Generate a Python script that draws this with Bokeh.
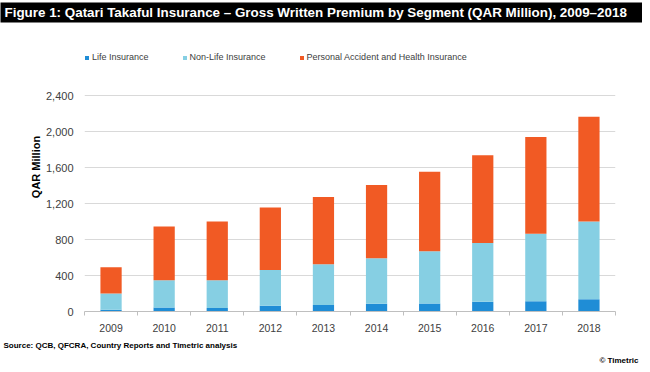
from bokeh.plotting import figure
from bokeh.models import (Range1d, FixedTicker, NumeralTickFormatter, Legend,
                          LegendItem, Title, ColumnDataSource)
from bokeh.embed import file_html
from bokeh.resources import INLINE

# ---- data (QAR Million) ----
years = ["2009", "2010", "2011", "2012", "2013", "2014", "2015", "2016", "2017", "2018"]
life = [20, 45, 38, 63, 72, 85, 90, 108, 115, 137]
non_life = [181, 304, 311, 399, 455, 508, 580, 654, 749, 865]
pa_health = [292, 597, 652, 696, 748, 813, 886, 977, 1076, 1165]
series_names = ["Life Insurance", "Non-Life Insurance",
                "Personal Accident and Health Insurance"]
y_ticks = [0, 400, 800, 1200, 1600, 2000, 2400]

title_text = ("Figure 1: Qatari Takaful Insurance \u2013 Gross Written Premium by Segment "
              "(QAR Million), 2009\u20132018")
source_text = "Source: QCB, QFCRA, Country Reports and Timetric analysis"
copyright_text = "\u00a9 Timetric"

colors = ["#1f8dd6", "#86cfe3", "#f15a24"]
W, H = 642, 364
FONT = "Liberation Sans"
Y_TOP = 3215  # headroom above the 2,400 gridline for the legend row

idx = list(range(len(years)))
src = ColumnDataSource(dict(x=idx, life=life, non_life=non_life, pa_health=pa_health))

p = figure(width=W, height=H, output_backend="svg", toolbar_location=None,
           x_range=Range1d(-0.5, len(years) - 0.5), y_range=Range1d(0, Y_TOP),
           min_border_left=84, min_border_right=27, min_border_top=20,
           min_border_bottom=52)
p.outline_line_color = None

rs = p.vbar_stack(["life", "non_life", "pa_health"], x="x", width=0.4,
                  color=colors, line_color=None, source=src)

p.xaxis.ticker = FixedTicker(ticks=idx, minor_ticks=[i - 0.5 for i in range(len(years) + 1)])
p.xaxis.major_label_overrides = {i: y for i, y in enumerate(years)}
p.xaxis.axis_line_color = "#bfbfbf"
p.xaxis.major_tick_line_color = None
p.xaxis.major_tick_out = 0
p.xaxis.major_tick_in = 0
p.xaxis.minor_tick_line_color = "#bfbfbf"
p.xaxis.minor_tick_out = 4
p.xaxis.minor_tick_in = 0
p.xaxis.major_label_standoff = 8
p.xaxis.major_label_text_font = FONT
p.xaxis.major_label_text_font_size = "10.5px"
p.xaxis.major_label_text_color = "#404040"

p.yaxis.ticker = FixedTicker(ticks=y_ticks)
p.yaxis.formatter = NumeralTickFormatter(format="0,0")
p.yaxis.axis_line_color = None
p.yaxis.major_tick_line_color = None
p.yaxis.major_tick_out = 0
p.yaxis.major_tick_in = 0
p.yaxis.minor_tick_line_color = None
p.yaxis.major_label_standoff = 11
p.yaxis.major_label_text_font = FONT
p.yaxis.major_label_text_font_size = "11px"
p.yaxis.major_label_text_color = "#404040"
p.yaxis.axis_label = "QAR Million"
p.yaxis.axis_label_text_font = FONT
p.yaxis.axis_label_text_font_size = "11px"
p.yaxis.axis_label_text_font_style = "bold"
p.yaxis.axis_label_text_color = "#000000"
p.yaxis.axis_label_standoff = 1

p.xgrid.grid_line_color = None
p.ygrid.grid_line_color = "#d9d9d9"

# title bar (black band)
p.title = Title(text=title_text, align="left", offset=-84, standoff=0,
                text_color="white", text_font=FONT, text_font_style="bold",
                text_font_size="13.4px",
                background_fill_color="black", background_fill_alpha=1,
                padding=dict(left=4, right=20, top=2, bottom=3))
p.title_location = "above"

legend = Legend(items=[LegendItem(label=n, renderers=[r]) for n, r in zip(series_names, rs)],
                orientation="horizontal", location=(0, 248),
                glyph_width=5, glyph_height=5, label_standoff=3, spacing=33,
                padding=0, margin=0, label_height=12,
                label_text_font=FONT, label_text_font_size="9px",
                label_text_color="#404040", border_line_color=None,
                background_fill_alpha=0)
p.add_layout(legend, "center")

p.add_layout(Title(text=source_text, align="left", offset=-81, standoff=8,
                   text_color="#000000", text_font=FONT, text_font_style="bold",
                   text_font_size="8px"), "below")
p.add_layout(Title(text=copyright_text, align="right", offset=-23, standoff=0,
                   text_color="#000000", text_font=FONT, text_font_style="bold",
                   text_font_size="8px"), "below")

open("out.html", "w").write(file_html(p, INLINE))
